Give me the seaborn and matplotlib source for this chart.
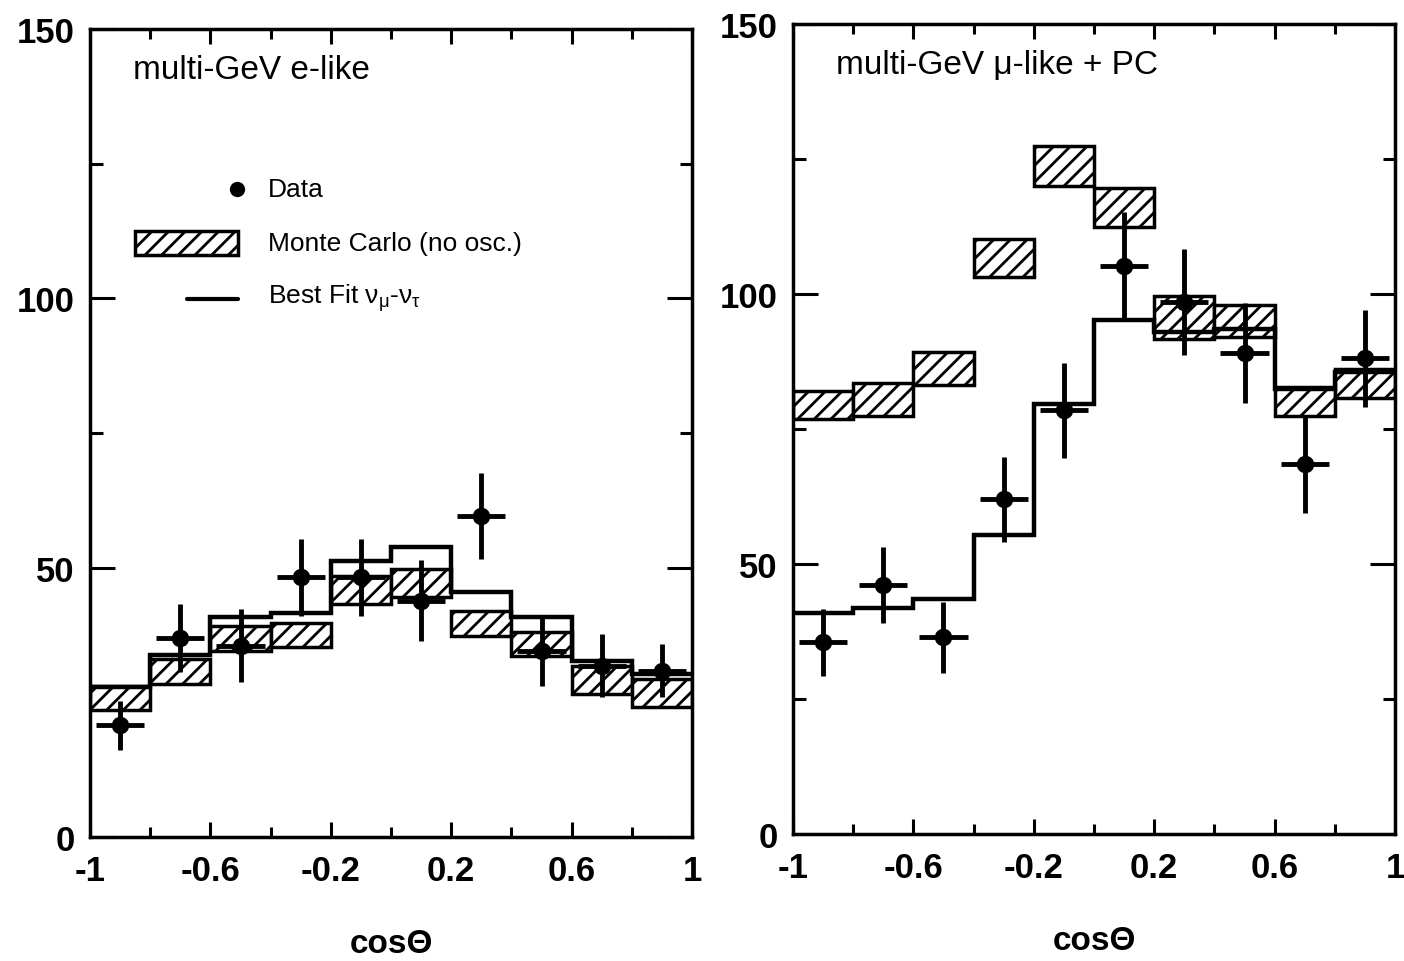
import numpy as np
import matplotlib
matplotlib.use('Agg')
import matplotlib.pyplot as plt
import matplotlib.patches as mpatches
from matplotlib.ticker import FixedLocator, MultipleLocator
import seaborn as sns

# zenith angle bins
cos_edges = [-1.0, -0.8, -0.6, -0.4, -0.2, 0.0, 0.2, 0.4, 0.6, 0.8, 1.0]
xtick_vals = [-1.0, -0.6, -0.2, 0.2, 0.6, 1.0]
xtick_labels = ['-1', '-0.6', '-0.2', '0.2', '0.6', '1']
ytick_vals = [0, 50, 100, 150]

# multi-GeV e-like
e_data = [20.7, 37.0, 35.5, 48.2, 48.2, 43.9, 59.6, 34.5, 31.8, 30.9]
e_data_err = [4.5, 6.3, 6.8, 7.1, 7.2, 7.6, 8.0, 6.5, 5.8, 5.0]
e_mc = [25.8, 30.7, 36.9, 37.5, 45.9, 47.1, 39.7, 35.8, 29.2, 26.7]
e_mc_err = [2.2, 2.3, 2.3, 2.3, 2.6, 2.6, 2.3, 2.2, 2.6, 2.6]
e_fit = [27.8, 33.7, 40.8, 41.6, 51.3, 53.9, 45.4, 40.8, 32.7, 30.3]

# multi-GeV mu-like + PC
mu_data = [35.5, 46.1, 36.4, 62.0, 78.5, 105.2, 98.5, 89.1, 68.5, 88.1]
mu_data_err = [6.2, 7.0, 6.6, 7.9, 8.8, 10.0, 9.8, 9.2, 9.0, 9.0]
mu_mc = [79.5, 80.5, 86.2, 106.6, 123.7, 116.0, 95.7, 95.0, 80.1, 83.5]
mu_mc_err = [2.6, 3.0, 3.1, 3.5, 3.7, 3.6, 4.0, 3.0, 2.6, 2.7]
mu_fit = [41.0, 41.8, 43.5, 55.4, 79.6, 95.1, 93.0, 93.5, 82.4, 85.5]

sns.set_style("ticks")
plt.rcParams['font.family'] = ['Liberation Sans', 'DejaVu Sans']
plt.rcParams['mathtext.fontset'] = 'custom'
plt.rcParams['mathtext.rm'] = 'Liberation Sans'
plt.rcParams['mathtext.it'] = 'Liberation Sans'
plt.rcParams['hatch.linewidth'] = 2.0
plt.rcParams['hatch.color'] = 'black'
plt.rcParams['text.color'] = 'black'
plt.rcParams['axes.labelcolor'] = 'black'
plt.rcParams['xtick.color'] = 'black'
plt.rcParams['ytick.color'] = 'black'
plt.rcParams['xtick.labelcolor'] = 'black'
plt.rcParams['ytick.labelcolor'] = 'black'


def draw_panel(ax, data, data_err, mc, mc_err, fit, title):
    edges = np.array(cos_edges)
    centers = (edges[:-1] + edges[1:]) / 2
    widths = np.diff(edges)
    mc = np.array(mc)
    mc_err = np.array(mc_err)

    # Monte Carlo (no oscillation) boxes
    ax.bar(centers, 2 * mc_err, bottom=mc - mc_err, width=widths,
           facecolor='white', edgecolor='black', hatch='//',
           linewidth=2.5, zorder=2)

    # best fit histogram
    ax.stairs(fit, edges, baseline=None, color='black', linewidth=3.2, zorder=3)

    # data points
    ax.errorbar(centers, data, yerr=data_err, xerr=0.08, fmt='none',
                ecolor='black', elinewidth=3.5, capsize=0, zorder=4)
    sns.scatterplot(x=centers, y=data, ax=ax, color='black', s=160,
                    edgecolor='black', linewidth=0, zorder=5, legend=False)

    ax.set_xlim(-1, 1)
    ax.set_ylim(0, 150)
    ax.xaxis.set_major_locator(FixedLocator(xtick_vals))
    ax.xaxis.set_minor_locator(MultipleLocator(0.2))
    ax.set_xticklabels(xtick_labels)
    ax.yaxis.set_major_locator(FixedLocator(ytick_vals))
    ax.yaxis.set_minor_locator(MultipleLocator(25))

    ax.tick_params(which='both', direction='in', top=True, right=True,
                   width=2.2, color='black', labelcolor='black')
    ax.tick_params(axis='x', which='major', length=11, pad=12)
    ax.tick_params(axis='x', which='minor', length=7)
    ax.tick_params(axis='y', which='major', length=18, pad=11)
    ax.tick_params(axis='y', which='minor', length=9)
    for lab in ax.get_xticklabels() + ax.get_yticklabels():
        lab.set_fontsize(25)
        lab.set_fontweight('bold')

    for sp in ax.spines.values():
        sp.set_linewidth(2.5)
        sp.set_color('black')

    ax.set_xlabel('cosΘ', fontsize=24, labelpad=30, color='black',
                  fontweight='bold')
    ax.set_ylabel('')
    ax.text(0.071, 0.95, title, transform=ax.transAxes, fontsize=24,
            ha='left', va='center', color='black')


fig = plt.figure(figsize=(14.04, 9.62), dpi=100)
ax1 = fig.add_axes([0.0641, 0.1289, 0.4288, 0.8399])
ax2 = fig.add_axes([0.5648, 0.1320, 0.4288, 0.8420])

draw_panel(ax1, e_data, e_data_err, e_mc, e_mc_err, e_fit, 'multi-GeV e-like')
draw_panel(ax2, mu_data, mu_data_err, mu_mc, mu_mc_err, mu_fit,
           'multi-GeV μ-like + PC')

# legend drawn by hand in the left panel
ax1.plot([0.244], [0.802], 'o', color='black', markersize=10,
         transform=ax1.transAxes)
ax1.text(0.296, 0.802, 'Data', transform=ax1.transAxes, fontsize=19,
         ha='left', va='center', color='black')
ax1.add_patch(mpatches.Rectangle((0.075, 0.720), 0.171, 0.030,
                                 transform=ax1.transAxes, facecolor='white',
                                 edgecolor='black', hatch='//', linewidth=2.5))
ax1.text(0.296, 0.735, 'Monte Carlo (no osc.)', transform=ax1.transAxes,
         fontsize=19, ha='left', va='center', color='black')
ax1.plot([0.161, 0.246], [0.666, 0.666], color='black', linewidth=3,
         transform=ax1.transAxes)
ax1.text(0.296, 0.668, r'Best Fit $\mathrm{\nu_\mu}$-$\mathrm{\nu_\tau}$',
         transform=ax1.transAxes, fontsize=19, ha='left', va='center',
         color='black')

fig.savefig('out.png', dpi=100)
